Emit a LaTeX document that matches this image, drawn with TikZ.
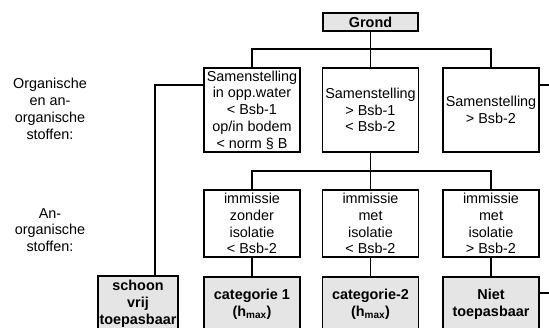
\documentclass[tikz,border=0pt]{standalone}
\usepackage{fontspec}
\setmainfont{Liberation Sans}
\begin{document}
\begin{tikzpicture}[x=1pt,y=-1pt,
  every node/.style={font=\fontsize{14.4}{16.8}\selectfont, align=center, inner sep=0pt},
  box/.style={draw, line width=1.8pt, rectangle, minimum width=96pt},
  topbox/.style={box, minimum height=84pt},
  midbox/.style={box, minimum height=67pt},
  endbox/.style={box, minimum height=55pt, fill=black!10, font=\fontsize{14.4}{17.2}\selectfont\bfseries},
  conn/.style={line width=1.8pt}]
\useasboundingbox (0,0) rectangle (549,327);
% root
\node[box, fill=black!10, minimum width=95pt, minimum height=18pt, font=\fontsize{14.4}{16.8}\selectfont\bfseries] (grond) at (370.5,22) {Grond};
% level 1
\node[topbox] (b1) at (252,110) {Samenstelling\\in opp.water\\< Bsb-1\\op/in bodem\\< norm § B};
\node[topbox] (b2) at (370.5,110) {Samenstelling\\> Bsb-1\\< Bsb-2};
\node[topbox] (b3) at (491,110) {Samenstelling\\> Bsb-2};
% level 2
\node[midbox] (r1) at (252,223.5) {immissie\\zonder\\isolatie\\< Bsb-2};
\node[midbox] (r2) at (370.5,223.5) {immissie\\met\\isolatie\\< Bsb-2};
\node[midbox] (r3) at (491,223.5) {immissie\\met\\isolatie\\> Bsb-2};
% results
\node[endbox, minimum width=80pt] (schoon) at (138,303.5) {schoon\\vrij\\toepasbaar};
\node[endbox] (c1) at (252,304.5) {categorie 1\\(h\textsubscript{max})};
\node[endbox] (c2) at (370.5,304.5) {categorie-2\\(h\textsubscript{max})};
\node[endbox] (niet) at (491,304.5) {Niet\\toepasbaar};
% side labels
\node (lab1) at (50,109) {Organische\\en an-\\organische\\stoffen:};
\node (lab2) at (50,230) {An-\\organische\\stoffen:};
% connectors
\coordinate (h1) at (370.5,49);
\coordinate (h2) at (370.5,171);
\coordinate (l1) at (155,85);
\coordinate (rt) at (556,85);
\coordinate (rb) at (556,293);
\draw[conn] (grond.south) -- (h1);
\draw[conn] (b1.north) |- (h1) -| (b3.north);
\draw[conn] (h1) -- (b2.north);
\draw[conn] (b2.south) -- (h2);
\draw[conn] (r1.north) |- (h2) -| (r3.north);
\draw[conn] (h2) -- (r2.north);
\draw[conn] (r1.south) -- (c1.north);
\draw[conn] (r2.south) -- (c2.north);
\draw[conn] (r3.south) -- (niet.north);
\draw[conn] (b1.west |- l1) -- (l1) -- (l1 |- schoon.north);
\draw[conn] (b3.east |- rt) -- (rt) -- (rb) -- (niet.east |- rb);
\end{tikzpicture}
\end{document}
